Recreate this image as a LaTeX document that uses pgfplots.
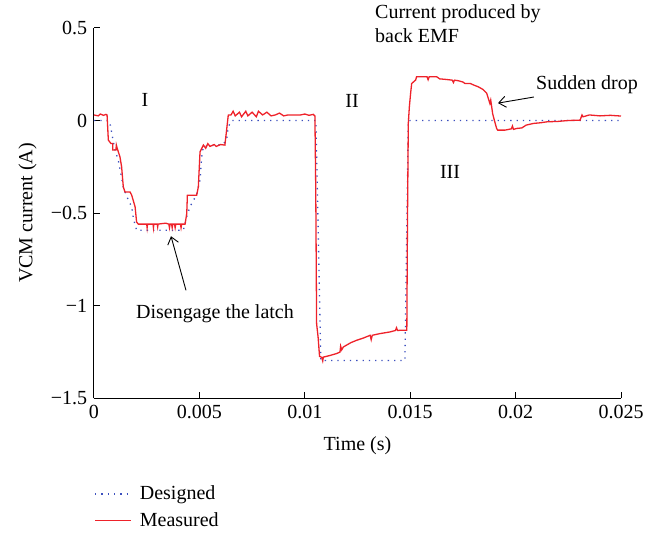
\documentclass[border=0pt]{standalone}
\usepackage{fontspec}
\setmainfont{Liberation Serif}
\usepackage{pgfplots}
\pgfplotsset{compat=1.18}
\usetikzlibrary{arrows.meta}
\definecolor{meascol}{RGB}{238,34,42}
\definecolor{descol}{RGB}{60,80,190}
\begin{document}
\fontsize{20bp}{24bp}\selectfont
\begin{tikzpicture}
\path[use as bounding box] (-94bp,-137bp) rectangle (571bp,398bp);
\begin{axis}[
  at={(0,0)}, anchor=south west,
  scale only axis,
  width=527bp, height=370bp,
  xmin=0, xmax=0.025, ymin=-1.5, ymax=0.5,
  axis x line*=bottom, axis y line*=left,
  axis line style={line width=1bp,-},
  tick align=inside,
  major tick length=6bp,
  every tick/.style={line width=1bp, black},
  scaled x ticks=false,
  xtick={0,0.005,0.01,0.015,0.02,0.025},
  xticklabels={0,0.005,0.01,0.015,0.02,0.025},
  ytick={-1.5,-1,-0.5,0,0.5},
  yticklabels={−1.5,−1,−0.5,0,0.5},
  xlabel={Time (s)},
  ylabel={VCM current (A)},
  xlabel style={at={(axis description cs:0.5,-0.143)}, anchor=base},
  ylabel style={at={(axis description cs:-0.126,0.5)}, anchor=center, rotate=0},
  clip=false,
  legend style={at={(axis description cs:-0.005,-0.225)}, anchor=north west, draw=none, fill=none, row sep=6bp, column sep=6bp, font=\fontsize{20bp}{24bp}\selectfont},
  legend cell align=left,
  legend image code/.code={\draw[#1] (0bp,0bp) -- (36bp,0bp);},
]
\addplot[descol, line width=1.3bp, dash pattern=on 1.3bp off 5bp] table {
0 0
0.00070 0
0.00076 -0.016
0.00089 -0.097
0.00100 -0.160
0.00115 -0.214
0.00127 -0.286
0.00139 -0.360
0.00155 -0.410
0.00179 -0.467
0.00187 -0.530
0.00202 -0.593
0.00424 -0.593
0.00440 -0.520
0.00455 -0.467
0.00487 -0.400
0.00503 -0.320
0.00511 -0.196
0.00519 -0.140
0.00610 -0.130
0.00629 -0.106
0.00637 -0.034
0.00653 0
0.01053 0
0.01076 -1.297
0.01475 -1.297
0.01491 0
0.025 0
};
\addlegendentry{Designed}
\addplot[meascol, line width=1.3bp] table {
0 0.030
0.0002 0.025
0.0003 0.035
0.00045 0.028
0.00057 0.033
0.00062 0.030
0.00068 -0.106
0.00080 -0.124
0.00089 -0.124
0.00089 -0.160
0.00104 -0.160
0.00106 -0.133
0.00110 -0.150
0.00123 -0.196
0.00131 -0.250
0.00139 -0.359
0.00147 -0.386
0.00171 -0.386
0.00179 -0.404
0.00195 -0.467
0.00202 -0.548
0.00210 -0.560
0.00250 -0.560
0.00252 -0.580
0.00254 -0.560
0.00280 -0.560
0.00282 -0.580
0.00284 -0.560
0.00300 -0.560
0.00302 -0.575
0.00304 -0.560
0.00340 -0.555
0.00355 -0.560
0.00358 -0.580
0.00361 -0.560
0.00368 -0.560
0.00371 -0.580
0.00374 -0.560
0.00382 -0.560
0.00385 -0.580
0.00388 -0.560
0.00410 -0.560
0.00413 -0.580
0.00416 -0.560
0.00432 -0.560
0.00440 -0.503
0.00443 -0.404
0.00487 -0.404
0.00495 -0.359
0.00503 -0.169
0.00519 -0.133
0.00530 -0.150
0.00540 -0.125
0.00550 -0.140
0.00570 -0.130
0.00580 -0.140
0.00600 -0.130
0.00621 -0.133
0.00629 -0.052
0.00637 0.029
0.00650 0.030
0.00660 0.050
0.00670 0.025
0.00690 0.045
0.00700 0.020
0.00720 0.050
0.00730 0.025
0.00750 0.045
0.00770 0.020
0.00780 0.050
0.00800 0.030
0.00820 0.045
0.00840 0.025
0.00860 0.030
0.00880 0.040
0.00900 0.025
0.00920 0.030
0.00950 0.030
0.00980 0.030
0.01000 0.035
0.01020 0.028
0.01040 0.033
0.01048 0.024
0.01052 -0.377
0.01056 -1.098
0.01063 -1.170
0.01070 -1.275
0.01080 -1.280
0.01085 -1.300
0.01088 -1.279
0.01120 -1.270
0.01150 -1.260
0.01167 -1.252
0.01170 -1.220
0.01175 -1.240
0.01183 -1.224
0.01220 -1.200
0.01246 -1.188
0.01280 -1.175
0.01310 -1.161
0.01315 -1.185
0.01320 -1.161
0.01356 -1.152
0.01404 -1.143
0.01430 -1.135
0.01435 -1.120
0.01440 -1.135
0.01452 -1.134
0.01484 -1.134
0.01487 -0.557
0.01491 -0.016
0.01496 0.074
0.01502 0.147
0.01507 0.200
0.01526 0.219
0.01530 0.236
0.01580 0.236
0.01585 0.220
0.01590 0.236
0.01626 0.236
0.01640 0.225
0.01670 0.222
0.01700 0.218
0.01705 0.205
0.01710 0.218
0.01728 0.215
0.01750 0.208
0.01760 0.200
0.01785 0.200
0.01805 0.190
0.01823 0.182
0.01845 0.168
0.01863 0.147
0.01878 0.092
0.01882 0.110
0.01891 0.038
0.01899 0.002
0.01910 -0.043
0.01915 -0.052
0.01950 -0.052
0.01980 -0.045
0.01985 -0.030
0.01990 -0.048
0.02005 -0.043
0.02030 -0.040
0.02050 -0.025
0.02084 -0.016
0.02120 -0.012
0.02150 -0.007
0.02200 -0.005
0.02250 0.000
0.02306 0.002
0.02315 0.030
0.02320 0.020
0.02350 0.030
0.02400 0.025
0.02450 0.028
0.02500 0.024
};
\addlegendentry{Measured}
\node at (axis cs:0.00242,0.11) {I};
\node at (axis cs:0.01224,0.105) {II};
\node at (axis cs:0.01689,-0.279) {III};
\node[anchor=north west, align=left, inner sep=0pt] at (axis cs:0.01333,0.625) {Current produced by\\back EMF};
\node[anchor=west, inner sep=0pt] at (axis cs:0.02097,0.191) {Sudden drop};
\draw[line width=0.9bp, -{Straight Barb[length=7bp,width=11bp]}] (axis cs:0.02087,0.127) -- (axis cs:0.019165,0.094);
\node[anchor=center, inner sep=0pt] at (axis cs:0.00574,-1.042) {Disengage the latch};
\draw[line width=0.9bp, -{Straight Barb[length=7bp,width=11bp]}] (axis cs:0.004364,-0.918) -- (axis cs:0.003653,-0.6255);
\end{axis}
\end{tikzpicture}
\end{document}
